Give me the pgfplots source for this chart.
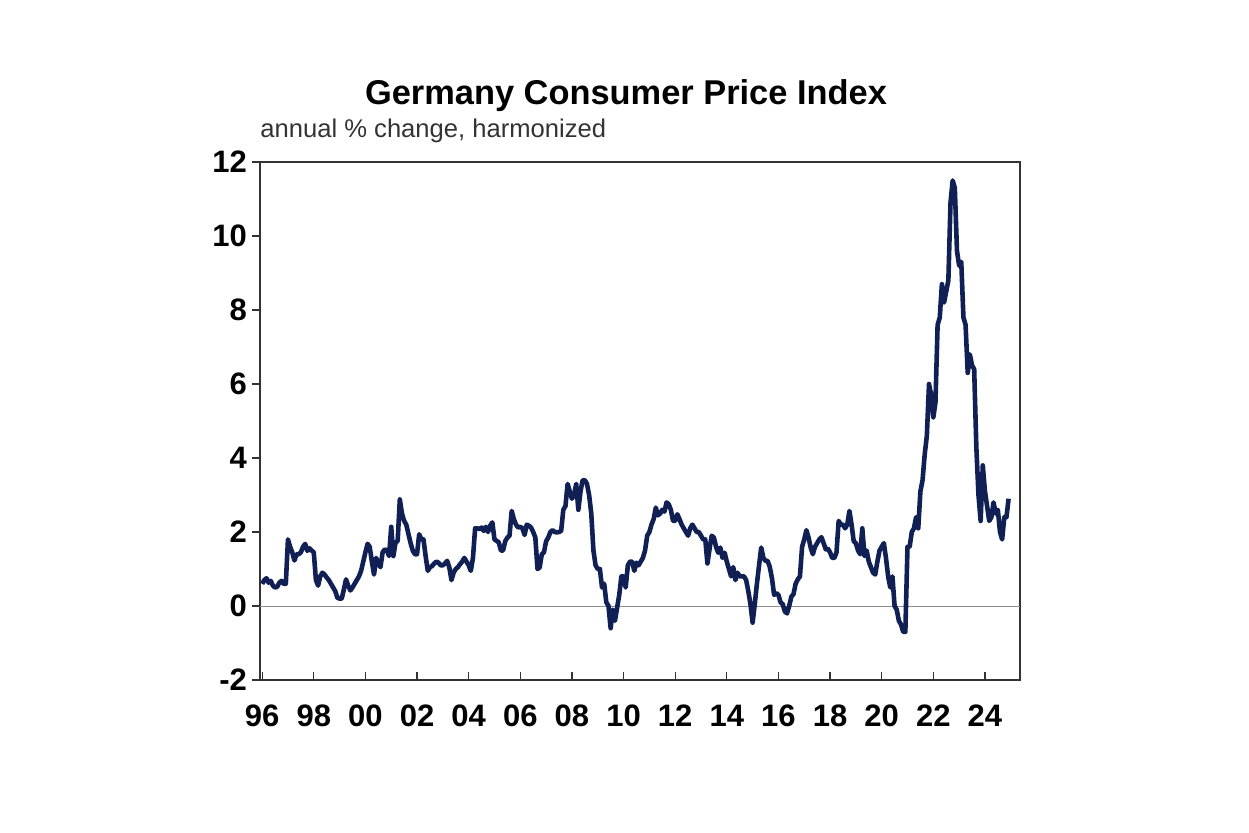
\documentclass[border=0pt]{standalone}
\usepackage{fontspec}
\setmainfont{Liberation Sans}
\usepackage{pgfplots}
\pgfplotsset{compat=1.18}
\definecolor{navy}{RGB}{16,32,84}
\begin{document}
\begin{tikzpicture}
\path[use as bounding box] (-130pt,-76pt) rectangle (494.5pt,340pt);
\begin{axis}[
  at={(0pt,0pt)}, anchor=south west,
  scale only axis, width=380pt, height=259pt,
  xmin=-1, xmax=352.3, ymin=-2, ymax=12,
  xtick={0,24,...,336},
  xticklabels={96,98,00,02,04,06,08,10,12,14,16,18,20,22,24},
  ytick={-2,0,...,12},
  yticklabels={-2,0,2,4,6,8,10,12},
  tick pos=left,
  xtick align=inside, ytick align=outside,
  major tick length=4pt,
  tick style={black!80, line width=0.6pt},
  axis line style={black!80, line width=0.8pt},
  ticklabel style={font=\fontsize{15.5}{16}\selectfont\bfseries},
  xticklabel style={yshift=-9pt},
  yticklabel style={xshift=1pt},
  extra y ticks={0}, extra y tick labels={},
  extra y tick style={grid=major, major grid style={black!45, line width=0.5pt}, major tick length=0pt},
]
\addplot[navy, line width=2.3pt, line join=round, no markers] table[row sep=\\, x expr=\coordindex, y index=0] {
v\\
0.6\\ 0.7\\ 0.75\\ 0.63\\ 0.68\\ 0.55\\ 0.5\\ 0.52\\ 0.63\\ 0.68\\ 0.6\\ 0.6\\
1.8\\ 1.6\\ 1.45\\ 1.23\\ 1.4\\ 1.4\\ 1.45\\ 1.6\\ 1.68\\ 1.49\\ 1.56\\ 1.5\\
1.45\\ 0.7\\ 0.55\\ 0.8\\ 0.9\\ 0.85\\ 0.77\\ 0.7\\ 0.6\\ 0.5\\ 0.4\\ 0.22\\
0.2\\ 0.2\\ 0.45\\ 0.72\\ 0.55\\ 0.42\\ 0.5\\ 0.6\\ 0.7\\ 0.8\\ 0.95\\ 1.2\\
1.45\\ 1.68\\ 1.6\\ 1.2\\ 0.85\\ 1.3\\ 1.15\\ 1.05\\ 1.45\\ 1.53\\ 1.5\\ 1.35\\
2.14\\ 1.35\\ 1.71\\ 1.76\\ 2.88\\ 2.5\\ 2.3\\ 2.2\\ 1.95\\ 1.7\\ 1.5\\ 1.4\\
1.4\\ 1.94\\ 1.8\\ 1.8\\ 1.35\\ 0.95\\ 1.05\\ 1.08\\ 1.15\\ 1.2\\ 1.17\\ 1.1\\
1.1\\ 1.15\\ 1.22\\ 1.05\\ 0.7\\ 0.9\\ 1.0\\ 1.05\\ 1.13\\ 1.2\\ 1.3\\ 1.2\\
1.1\\ 0.95\\ 1.3\\ 2.1\\ 2.1\\ 2.08\\ 2.12\\ 2.03\\ 2.14\\ 2.0\\ 2.17\\ 2.26\\
1.8\\ 1.76\\ 1.72\\ 1.5\\ 1.5\\ 1.75\\ 1.85\\ 1.9\\ 2.57\\ 2.35\\ 2.2\\ 2.12\\
2.14\\ 2.1\\ 1.92\\ 2.2\\ 2.17\\ 2.12\\ 2.0\\ 1.85\\ 1.0\\ 1.04\\ 1.4\\ 1.45\\
1.75\\ 1.85\\ 2.0\\ 2.05\\ 2.0\\ 1.99\\ 2.0\\ 2.03\\ 2.6\\ 2.7\\ 3.3\\ 3.1\\
2.9\\ 3.0\\ 3.3\\ 2.6\\ 3.1\\ 3.4\\ 3.4\\ 3.3\\ 3.0\\ 2.5\\ 1.5\\ 1.1\\
1.0\\ 1.0\\ 0.5\\ 0.6\\ 0.1\\ 0.0\\ -0.6\\ -0.1\\ -0.4\\ -0.05\\ 0.3\\ 0.8\\
0.8\\ 0.5\\ 1.1\\ 1.2\\ 1.2\\ 0.95\\ 1.17\\ 1.1\\ 1.2\\ 1.3\\ 1.5\\ 1.9\\
2.0\\ 2.2\\ 2.35\\ 2.66\\ 2.45\\ 2.5\\ 2.6\\ 2.55\\ 2.8\\ 2.75\\ 2.6\\ 2.3\\
2.3\\ 2.48\\ 2.35\\ 2.2\\ 2.1\\ 2.0\\ 1.9\\ 2.1\\ 2.2\\ 2.1\\ 2.0\\ 2.0\\
1.9\\ 1.8\\ 1.8\\ 1.15\\ 1.55\\ 1.9\\ 1.85\\ 1.6\\ 1.44\\ 1.58\\ 1.3\\ 1.44\\
1.2\\ 1.0\\ 0.8\\ 1.05\\ 0.7\\ 0.9\\ 0.8\\ 0.8\\ 0.8\\ 0.7\\ 0.4\\ 0.05\\
-0.45\\ 0.05\\ 0.6\\ 1.1\\ 1.58\\ 1.3\\ 1.22\\ 1.22\\ 1.05\\ 0.75\\ 0.3\\ 0.35\\
0.3\\ 0.1\\ 0.05\\ -0.15\\ -0.2\\ 0.0\\ 0.25\\ 0.32\\ 0.6\\ 0.72\\ 0.8\\ 1.6\\
1.8\\ 2.05\\ 1.85\\ 1.58\\ 1.4\\ 1.6\\ 1.7\\ 1.8\\ 1.86\\ 1.7\\ 1.53\\ 1.55\\
1.45\\ 1.3\\ 1.3\\ 1.45\\ 2.3\\ 2.2\\ 2.2\\ 2.1\\ 2.2\\ 2.57\\ 2.2\\ 1.75\\
1.7\\ 1.5\\ 1.4\\ 2.1\\ 1.35\\ 1.5\\ 1.2\\ 1.05\\ 0.9\\ 0.85\\ 1.2\\ 1.5\\
1.6\\ 1.7\\ 1.3\\ 0.8\\ 0.5\\ 0.8\\ 0.0\\ -0.1\\ -0.4\\ -0.5\\ -0.7\\ -0.7\\
1.6\\ 1.6\\ 2.0\\ 2.1\\ 2.4\\ 2.1\\ 3.1\\ 3.4\\ 4.1\\ 4.6\\ 6.0\\ 5.7\\
5.1\\ 5.5\\ 7.6\\ 7.8\\ 8.7\\ 8.2\\ 8.5\\ 8.8\\ 10.9\\ 11.5\\ 11.3\\ 9.6\\
9.2\\ 9.3\\ 7.8\\ 7.6\\ 6.3\\ 6.8\\ 6.5\\ 6.4\\ 4.3\\ 3.0\\ 2.3\\ 3.8\\
3.1\\ 2.7\\ 2.3\\ 2.4\\ 2.8\\ 2.5\\ 2.6\\ 2.0\\ 1.8\\ 2.4\\ 2.4\\ 2.9\\
};
\end{axis}
\node[anchor=base, font=\fontsize{17.2}{18}\selectfont\bfseries] at (183pt,287.5pt) {Germany Consumer Price Index};
\node[anchor=base west, inner sep=0pt, font=\fontsize{12.8}{13}\selectfont, text=black!80] at (0pt,271.5pt) {annual \% change, harmonized};
\end{tikzpicture}
\end{document}
